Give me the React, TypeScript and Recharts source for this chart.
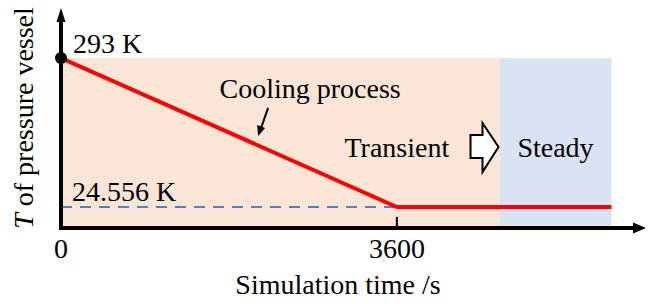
import {
  ComposedChart,
  Line,
  XAxis,
  YAxis,
  ReferenceArea,
  ReferenceLine,
  ReferenceDot,
  Label,
} from "recharts";

const FONT = '"Liberation Serif", "Times New Roman", serif';

// cooling curve of the pressure vessel: time (s) vs temperature (K)
const timeS = [0, 3600, 5900];
const tempK = [293, 24.556, 24.556];
const xTicks = [0, 3600];

// background phases
const phaseNames = ["Transient", "Steady"];
const phaseEdges = [0, 4700, 5900];
const phaseFills = ["#fbe5d6", "#dae3f3"];

const X_MAX = 6270;
const Y_MIN = -13.3;
const Y_MAX = 383;

const T_START = tempK[0];
const T_END = tempK[tempK.length - 1];
const COOL_END = timeS[1];

const data = timeS.map((t, i) => ({ t, T: tempK[i] }));

const txt = { fontFamily: FONT, fontSize: 28, fill: "#000" };

const StartDot = (p: any) => (
  <g>
    <circle cx={p.cx} cy={p.cy} r={6} fill="#000" />
    <text x={p.cx + 12} y={p.cy - 5} {...txt}>
      {T_START} K
    </text>
  </g>
);

const EndLabel = (p: any) => (
  <text x={p.cx + 11} y={p.cy - 6} {...txt}>
    {T_END} K
  </text>
);

const CoolingNote = (p: any) => (
  <g>
    <text x={p.cx} y={p.cy} textAnchor="middle" {...txt}>
      Cooling process
    </text>
    <line x1={p.cx - 42} y1={p.cy + 10} x2={p.cx - 49} y2={p.cy + 30} stroke="#000" strokeWidth={2} />
    <polygon
      points={`${p.cx - 52},${p.cy + 38} ${p.cx - 53},${p.cy + 27} ${p.cx - 45},${p.cy + 30}`}
      fill="#000"
    />
  </g>
);

const PhaseText = (name: string) => (p: any) => (
  <text x={p.cx} y={p.cy} textAnchor="middle" {...txt}>
    {name}
  </text>
);

// block arrow pointing from transient to steady
const BlockArrow = (p: any) => {
  const x = p.cx;
  const y = p.cy;
  const pts = [
    [x - 29, y - 12],
    [x - 17, y - 12],
    [x - 17, y - 24],
    [x - 1, y],
    [x - 17, y + 25],
    [x - 17, y + 11],
    [x - 29, y + 11],
  ]
    .map((q) => q.join(","))
    .join(" ");
  return <polygon points={pts} fill="#fff" stroke="#000" strokeWidth={2} strokeLinejoin="miter" />;
};

const ArrowUp = (p: any) => (
  <polygon points={`${p.cx},${p.cy} ${p.cx - 4.5},${p.cy + 14} ${p.cx + 4.5},${p.cy + 14}`} fill="#000" />
);

const ArrowRight = (p: any) => (
  <polygon points={`${p.cx},${p.cy} ${p.cx - 13},${p.cy - 5.5} ${p.cx - 13},${p.cy + 5.5}`} fill="#000" />
);

export default function App() {
  return (
    <div style={{ position: "absolute", left: 0, top: 0, background: "#fff" }}>
      <ComposedChart width={648} height={304} data={data} margin={{ top: 8, right: 2, bottom: 0, left: 0 }}>
        <XAxis
          dataKey="t"
          type="number"
          domain={[0, X_MAX]}
          allowDataOverflow
          ticks={xTicks}
          interval={0}
          axisLine={false}
          tickLine={false}
          tickMargin={4}
          height={76}
          tick={txt}
        >
          <Label
            content={(props: any) => {
              const vb = props.viewBox || { x: 61, y: 228 };
              return (
                <text x={vb.x + 277} y={vb.y + 66} textAnchor="middle" {...txt}>
                  Simulation time /s
                </text>
              );
            }}
          />
        </XAxis>
        <YAxis
          type="number"
          domain={[Y_MIN, Y_MAX]}
          allowDataOverflow
          width={61}
          tick={false}
          axisLine={false}
          tickLine={false}
        >
          <Label
            content={(props: any) => {
              const vb = props.viewBox || { x: 0, y: 8, height: 220 };
              const cx = 33;
              const cy = vb.y + 110;
              return (
                <text x={cx} y={cy} textAnchor="middle" transform={`rotate(-90 ${cx} ${cy})`} {...txt}>
                  <tspan fontStyle="italic">T</tspan> of pressure vessel
                </text>
              );
            }}
          />
        </YAxis>

        {phaseNames.map((n, i) => (
          <ReferenceArea
            key={n}
            x1={phaseEdges[i]}
            x2={phaseEdges[i + 1]}
            y1={Y_MIN}
            y2={T_START}
            fill={phaseFills[i]}
            fillOpacity={1}
            stroke="none"
            ifOverflow="visible"
          />
        ))}

        <ReferenceLine
          segment={[
            { x: 0, y: T_END },
            { x: COOL_END, y: T_END },
          ]}
          stroke="#4f7fcf"
          strokeWidth={2}
          strokeDasharray="11 8"
          ifOverflow="visible"
        />

        <Line
          type="linear"
          dataKey="T"
          stroke="#ff0000"
          strokeWidth={4}
          dot={false}
          activeDot={false}
          isAnimationActive={false}
        />

        {/* axes with arrows */}
        <ReferenceLine
          segment={[
            { x: 0, y: Y_MIN },
            { x: 0, y: Y_MAX - 22 },
          ]}
          stroke="#000"
          strokeWidth={4}
          strokeLinecap="square"
          ifOverflow="visible"
        />
        <ReferenceLine
          segment={[
            { x: 0, y: Y_MIN },
            { x: X_MAX - 110, y: Y_MIN },
          ]}
          stroke="#000"
          strokeWidth={4}
          strokeLinecap="square"
          ifOverflow="visible"
        />
        <ReferenceLine
          segment={[
            { x: COOL_END, y: Y_MIN },
            { x: COOL_END, y: Y_MIN + 20 },
          ]}
          stroke="#000"
          strokeWidth={2}
          ifOverflow="visible"
        />
        <ReferenceDot x={0} y={Y_MAX} shape={ArrowUp} ifOverflow="visible" />
        <ReferenceDot x={X_MAX} y={Y_MIN} shape={ArrowRight} ifOverflow="visible" />

        <ReferenceDot x={0} y={T_START} shape={StartDot} ifOverflow="visible" />
        <ReferenceDot x={0} y={T_END} shape={EndLabel} ifOverflow="visible" />
        <ReferenceDot x={2670} y={221} shape={CoolingNote} ifOverflow="visible" />
        <ReferenceDot x={3600} y={114.6} shape={PhaseText(phaseNames[0])} ifOverflow="visible" />
        <ReferenceDot x={5300} y={114.6} shape={PhaseText(phaseNames[1])} ifOverflow="visible" />
        <ReferenceDot x={phaseEdges[1]} y={132.6} shape={BlockArrow} ifOverflow="visible" />
      </ComposedChart>
    </div>
  );
}
